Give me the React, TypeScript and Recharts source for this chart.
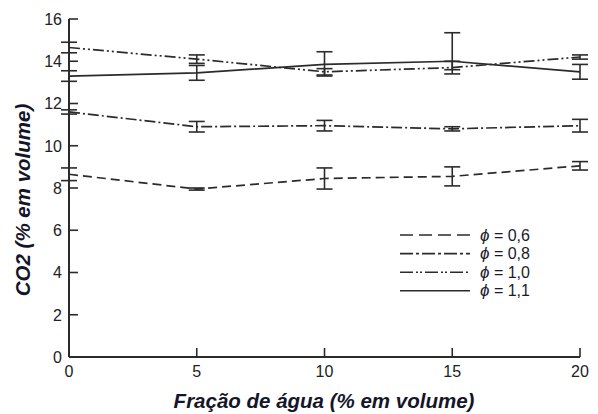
import { LineChart, Line, XAxis, YAxis, ErrorBar, Label } from 'recharts';

const fracAgua = [0, 5, 10, 15, 20];

const phi06 = [8.65, 7.95, 8.45, 8.55, 9.05];
const phi06Err = [0.3, 0.05, 0.5, 0.45, 0.2];

const phi08 = [11.6, 10.9, 10.95, 10.8, 10.95];
const phi08Err = [0.1, 0.25, 0.25, 0.1, 0.3];

const phi10 = [14.65, 14.1, 13.5, 13.7, 14.2];
const phi10Err = [0.25, 0.2, 0.15, 0.3, 0.1];

const phi11 = [13.3, 13.45, 13.85, 14.0, 13.5];
const phi11Err: Array<[number, number]> = [[0.25, 0.25], [0.35, 0.35], [0.55, 0.6], [0.4, 1.35], [0.35, 0.35]];

const xTicks = [0, 5, 10, 15, 20];
const yTicks = [0, 2, 4, 6, 8, 10, 12, 14, 16];

const seriesInfo = [
  { key: 'p06', label: '0,6', dash: '9 5', legendDash: '13 6' },
  { key: 'p08', label: '0,8', dash: '11 3 2 3', legendDash: '13 3 3 3' },
  { key: 'p10', label: '1,0', dash: '11 3 2 3 2 3', legendDash: '13 3 2 2 2 3' },
  { key: 'p11', label: '1,1', dash: undefined, legendDash: undefined },
];

const data = fracAgua.map((x, i) => ({
  x,
  p06: phi06[i],
  p06e: phi06Err[i],
  p08: phi08[i],
  p08e: phi08Err[i],
  p10: phi10[i],
  p10e: phi10Err[i],
  p11: phi11[i],
  p11e: phi11Err[i],
}));

const INK = '#2b2b2b';
const FONT = '"Liberation Sans", Arial, sans-serif';
const titleStyle = { fontSize: 20.5, fontWeight: 700, fontStyle: 'italic' as const, fontFamily: FONT };

function YTick(props: any) {
  const { x, y, payload } = props;
  return (
    <g>
      <line x1={x} x2={x + 9} y1={y} y2={y} stroke={INK} strokeWidth={1.6} />
      <text x={x - 7} y={y} dy="0.36em" textAnchor="end" fontSize={16} fill="#222" fontFamily={FONT}>
        {payload.value}
      </text>
    </g>
  );
}

function XTick(props: any) {
  const { x, y, payload } = props;
  return (
    <g>
      <line x1={x} x2={x} y1={y} y2={y - 9} stroke={INK} strokeWidth={1.6} />
      <text x={x} y={y + 8} dy="0.72em" textAnchor="middle" fontSize={16} fill="#222" fontFamily={FONT}>
        {payload.value}
      </text>
    </g>
  );
}

function LegendBox() {
  return (
    <svg width={160} height={80} style={{ position: 'absolute', left: 400, top: 227 }}>
      {seriesInfo.map((s, i) => {
        const y = 8 + i * 18.6;
        return (
          <g key={s.key}>
            <line x1={0} x2={70} y1={y} y2={y} stroke={INK} strokeWidth={1.6} strokeDasharray={s.legendDash} />
            <text x={80} y={y} dy="0.35em" fontSize={16} fill="#1a1a2e" fontFamily={FONT}>
              <tspan fontStyle="italic" fontSize={17}>ϕ</tspan>
              <tspan> = {s.label}</tspan>
            </text>
          </g>
        );
      })}
    </svg>
  );
}

export default function App() {
  return (
    <div style={{ position: 'absolute', left: 0, top: 0, width: 598, height: 414, background: '#fff' }}>
      <LineChart width={598} height={414} data={data} margin={{ top: 19, right: 18, bottom: 27, left: 29 }}>
        <XAxis
          dataKey="x"
          type="number"
          domain={[0, 20]}
          ticks={xTicks}
          tick={<XTick />}
          tickLine={false}
          tickSize={0}
          tickMargin={0}
          height={30}
          axisLine={{ stroke: INK, strokeWidth: 2 }}
        >
          <Label
            content={() => (
              <text x={324} y={408} textAnchor="middle" fill="#15152a" style={titleStyle}>
                Fração de água (% em volume)
              </text>
            )}
          />
        </XAxis>
        <YAxis
          type="number"
          domain={[0, 16]}
          ticks={yTicks}
          tick={<YTick />}
          tickLine={false}
          tickSize={0}
          tickMargin={0}
          width={40}
          axisLine={{ stroke: INK, strokeWidth: 2 }}
        >
          <Label
            content={() => (
              <text
                x={0}
                y={0}
                transform="translate(30 200) rotate(-90)"
                textAnchor="middle"
                fill="#15152a"
                style={titleStyle}
              >
                CO2 (% em volume)
              </text>
            )}
          />
        </YAxis>
        {seriesInfo.map((s) => (
          <Line
            key={s.key}
            type="linear"
            dataKey={s.key}
            stroke={INK}
            strokeWidth={1.7}
            strokeDasharray={s.dash}
            dot={false}
            activeDot={false}
            isAnimationActive={false}
          >
            <ErrorBar dataKey={`${s.key}e`} width={8} stroke={INK} strokeWidth={1.6} isAnimationActive={false} />
          </Line>
        ))}
      </LineChart>
      <LegendBox />
    </div>
  );
}
